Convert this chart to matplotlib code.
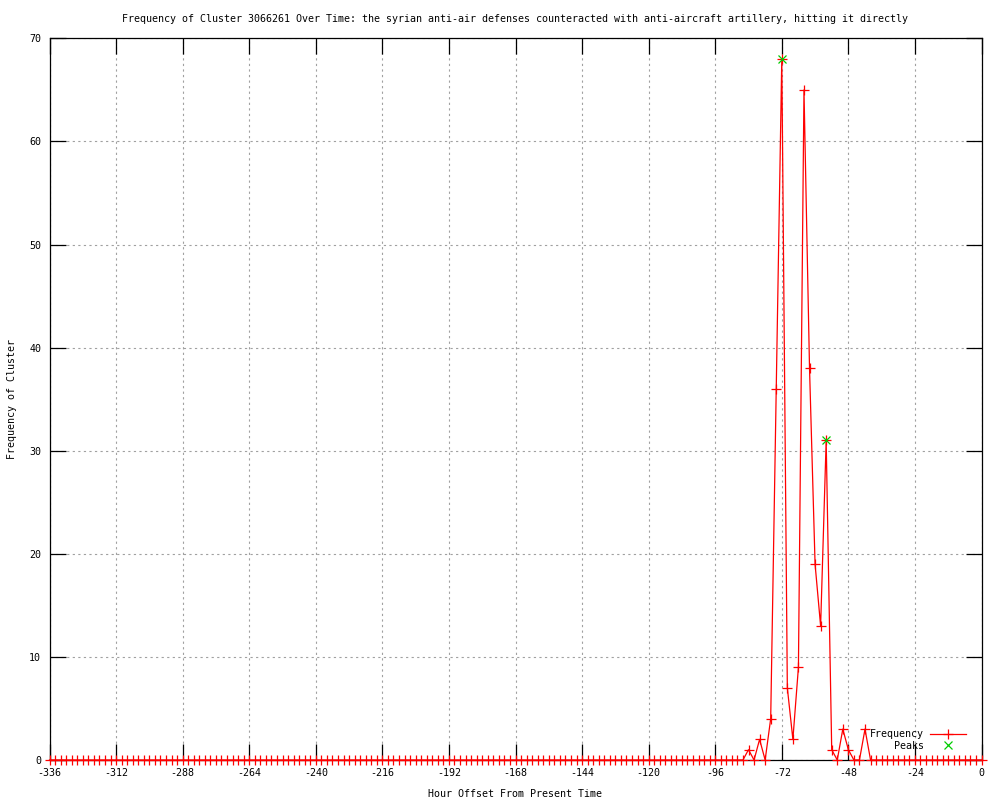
import matplotlib
matplotlib.use('Agg')
import matplotlib.pyplot as plt

plt.rcParams['font.family'] = 'DejaVu Sans Mono'
plt.rcParams['axes.unicode_minus'] = False

# hours before present, one sample every 2 hours
hours = list(range(-336, 1, 2))
# counts: zeros up to -86, the burst from -84 to -42, zeros after
freq = ([0] * 126
        + [1, 0, 2, 0, 4, 36, 68, 7, 2, 9, 65, 38, 19, 13, 31, 1, 0, 3, 1, 0, 0, 3]
        + [0] * 21)

peak_hours = [-72, -56]
peak_vals = [68, 31]

title = ('Frequency of Cluster 3066261 Over Time: the syrian anti-air defenses '
         'counteracted with anti-aircraft artillery, hitting it directly')

fs = 7.2

fig = plt.figure(figsize=(10, 8), dpi=100)
ax = fig.add_axes([0.0495, 0.05, 0.932, 0.902])

ax.plot(hours, freq, '-', color='red', linewidth=0.9, marker='+',
        markersize=6.5, markeredgewidth=0.9, label='Frequency', clip_on=False,
        zorder=3)
ax.plot(peak_hours, peak_vals, 'x', color='#00cc00', markersize=5.5,
        markeredgewidth=0.9, label='Peaks', zorder=4)

ax.set_xlim(-336, 0)
ax.set_ylim(0, 70)
ax.set_xticks(range(-336, 1, 24))
ax.set_yticks(range(0, 71, 10))
ax.tick_params(direction='in', length=11.5, width=0.9, top=True, right=True,
               labelsize=fs, pad=6)
for s in ax.spines.values():
    s.set_linewidth(0.9)

ax.grid(True, color='#a0a0a0', linestyle=(0, (2, 3)), linewidth=0.8)

ax.set_title(title, fontsize=fs, pad=12)
ax.set_xlabel('Hour Offset From Present Time', fontsize=fs, labelpad=8)
ax.set_ylabel('Frequency of Cluster', fontsize=fs, labelpad=9)

leg = ax.legend(loc='lower right', fontsize=fs, frameon=False, markerfirst=False,
                handlelength=3.6, borderaxespad=0.4, labelspacing=0.15,
                handletextpad=0.6, bbox_to_anchor=(0.992, 0.002))
for t in leg.get_texts():
    t.set_ha('right')

fig.savefig('out.png', dpi=100)
